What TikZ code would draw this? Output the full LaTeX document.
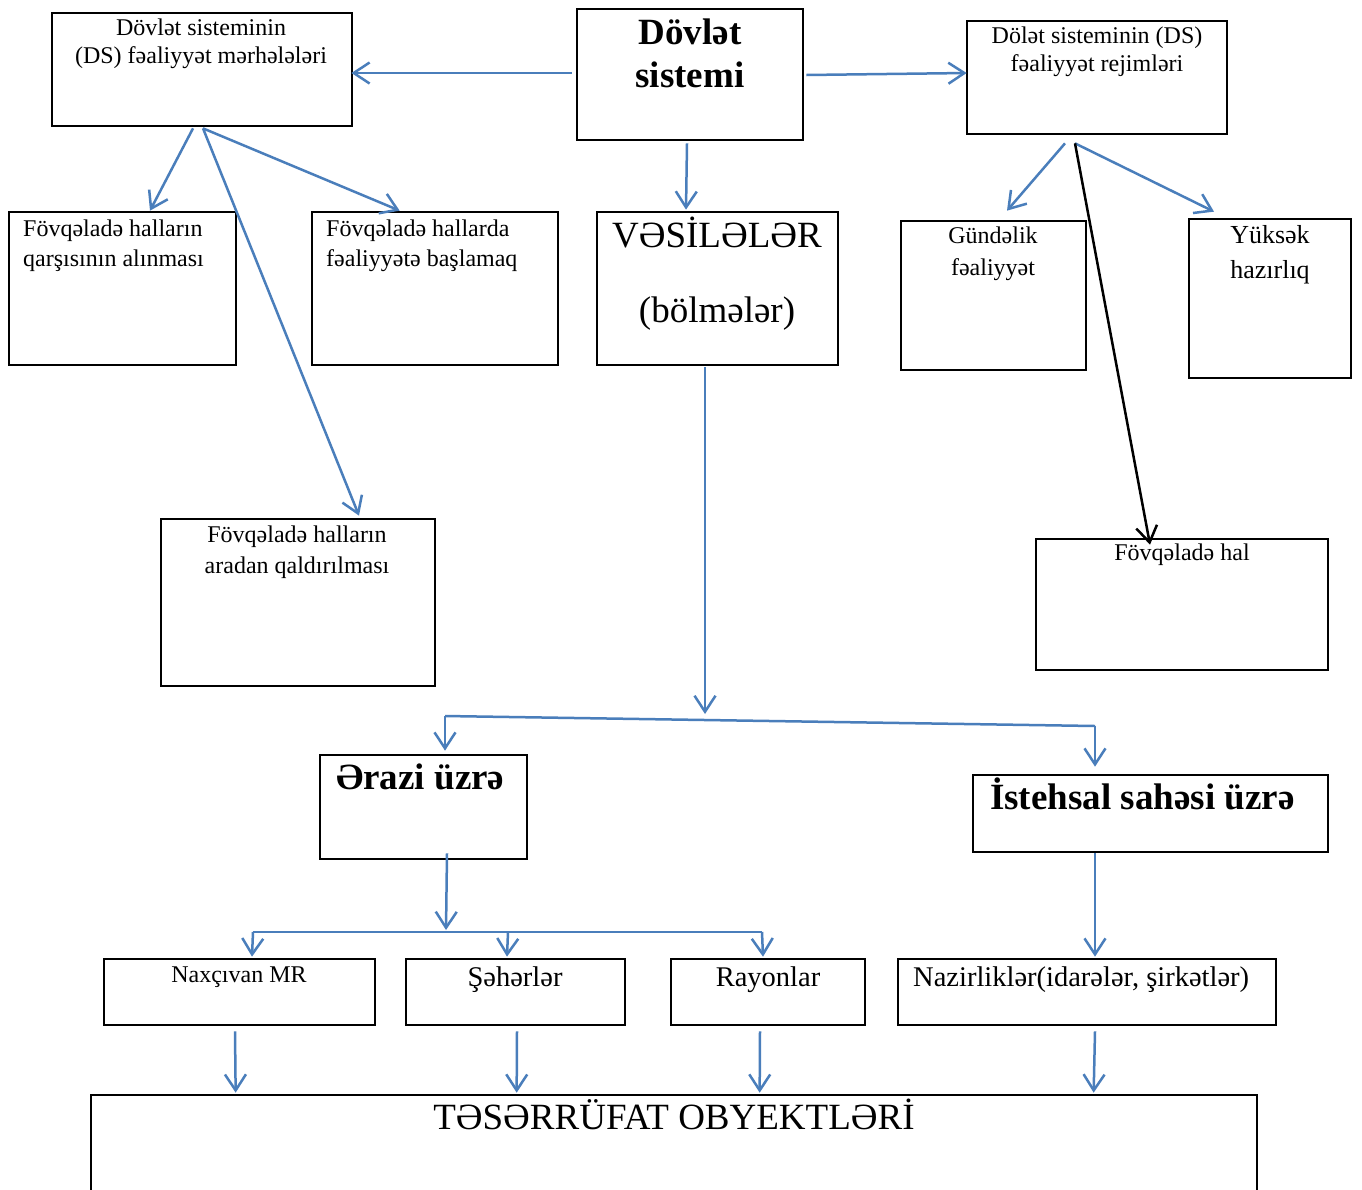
\documentclass[tikz,border=0pt]{standalone}
\usepackage{fontspec}
\setmainfont{Liberation Serif}
\usetikzlibrary{arrows.meta,calc,fit}
\definecolor{arrblue}{HTML}{4A7EBB}
\begin{document}
\begin{tikzpicture}[x=1pt,y=-1pt,
  box/.style={draw=black,line width=2.7pt,inner sep=0pt,rectangle},
  txt/.style={inner sep=0pt,align=center,font=\fontsize{24}{28}\selectfont},
  txtl/.style={inner sep=0pt,align=left,font=\fontsize{24}{30}\selectfont},
  big/.style={inner sep=0pt,align=center,font=\fontsize{37}{43}\selectfont},
  bigb/.style={inner sep=0pt,align=center,font=\fontsize{37}{43}\selectfont\bfseries},
  mid/.style={inner sep=0pt,align=center,font=\fontsize{28.5}{33}\selectfont},
  arr/.style={draw=arrblue,line width=2.5pt,-{Straight Barb[length=16pt,width=21pt]}},
  arrk/.style={draw=black,line width=2.5pt,-{Straight Barb[length=16pt,width=21pt]}},
  lnk/.style={draw=arrblue,line width=2.5pt},
 ]
\useasboundingbox (0,0) rectangle (1362,1189);
\clip (0,0) rectangle (1362,1189);
\fill[white] (0,0) rectangle (1362,1189);

% boxes
\node[box, fit={(52,13) (352,126)}] (b1) {};
\node[box, fit={(577,9) (803,140)}] (b2) {};
\node[box, fit={(967,21) (1227,134)}] (b3) {};
\node[box, fit={(9,212) (236,365)}] (b4) {};
\node[box, fit={(312,212) (558,365)}] (b5) {};
\node[box, fit={(597,212) (838,365)}] (b6) {};
\node[box, fit={(901,221) (1086,370)}] (b7) {};
\node[box, fit={(1189,219) (1351,378)}] (b8) {};
\node[box, fit={(161,519) (435,686)}] (b9) {};
\node[box, fit={(1036,539) (1328,670)}] (b10) {};
\node[box, fit={(320,755) (527,859)}] (b11) {};
\node[box, fit={(973,775) (1328,852)}] (b12) {};
\node[box, fit={(104,959) (375,1025)}] (b13) {};
\node[box, fit={(406,959) (625,1025)}] (b14) {};
\node[box, fit={(671,959) (865,1025)}] (b15) {};
\node[box, fit={(898,959) (1276,1025)}] (b16) {};
\node[box, fit={(91,1095) (1257,1210)}] (b17) {};

% texts (base anchor = baseline of the last line)
\node[txt, anchor=base] (t1) at (201,63) {Dövlət sisteminin\\(DS) fəaliyyət mərhələləri};
\node[bigb, anchor=base] (t2) at (690,87) {Dövlət\\sistemi};
\node[txt, anchor=base] (t3) at (1097,71) {Dölət sisteminin (DS)\\fəaliyyət rejimləri};
\node[txtl, anchor=base west] (t4) at (23,266) {Fövqəladə halların\\qarşısının alınması};
\node[txtl, anchor=base west] (t5) at (326,266) {Fövqəladə hallarda\\fəaliyyətə başlamaq};
\node[big, font=\fontsize{37}{75}\selectfont, anchor=base] (t6) at (717,322) {VƏSİLƏLƏR\\(bölmələr)};
\node[txt, font=\fontsize{24}{32}\selectfont, anchor=base] (t7) at (993,275) {Gündəlik\\fəaliyyət};
\node[txt, font=\fontsize{26}{35}\selectfont, anchor=base] (t8) at (1270,278) {Yüksək\\hazırlıq};
\node[txt, font=\fontsize{24}{31}\selectfont, anchor=base] (t9) at (297,573) {Fövqəladə halların\\aradan qaldırılması};
\node[txt, anchor=base] (t10) at (1182,560) {Fövqəladə hal};
\node[bigb, anchor=base west] (t11) at (336,789) {Ərazi üzrə};
\node[bigb, anchor=base west] (t12) at (990,809) {İstehsal sahəsi üzrə};
\node[txt, anchor=base] (t13) at (239,982) {Naxçıvan MR};
\node[mid, anchor=base] (t14) at (515,986) {Şəhərlər};
\node[mid, anchor=base] (t15) at (768,986) {Rayonlar};
\node[mid, anchor=base west] (t16) at (913,986) {Nazirliklər(idarələr, şirkətlər)};
\node[big, anchor=base] (t17) at (674,1129) {TƏSƏRRÜFAT OBYEKTLƏRİ};

% junction coordinates
\coordinate (jv) at (705,714);
\coordinate (bl) at (445,716);
\coordinate (br) at (1095,726);
\coordinate (je) at (446,930);
\coordinate (el) at (253,932);
\coordinate (em) at (508,932);
\coordinate (er) at (762,932);

% connectors
\draw[arr] ($(b2.west)+(-4,-1.5)$) -- ($(b1.east)+(-2,3.5)$);
\draw[arr] ($(b2.east)+(2,0.5)$) -- ($(b3.west)+(1,-4.5)$);
\draw[arr] ($(b2.south)+(-3,2)$) -- ($(b6.north)+(-31.5,-1)$);
\draw[arr] ($(b1.south)+(-9,1)$) -- ($(b4.north)+(27.5,0)$);
\draw[arr] ($(b1.south)+(1,1)$) -- ($(b5.north west)+(89,0)$);
\draw[arr] ($(b1.south)+(1,1)$) -- ($(b9.north)+(61,-2)$);
\draw[arr] ($(b3.south)+(-32,8)$) -- ($(b7.north)+(13.5,-9)$);
\draw[arr] ($(b3.south)+(-22,8)$) -- ($(b8.north)+(-56,-6)$);
\draw[arrk] ($(b3.south)+(-22,8)$) -- ($(b10.north)+(-32,7)$);
\draw[arr] ($(b6.south)+(-12.5,1)$) -- (jv);
\draw[lnk] (bl) -- (br);
\draw[arr] (bl) -- ($(b11.north)+(21.5,-3)$);
\draw[arr] (br) -- ($(b12.north)+(-55.5,-7)$);
\draw[arr] ($(b11.south)+(23.5,-7)$) -- (je);
\draw[lnk] (el) -- (er);
\draw[arr] (el) -- ($(b13.north)+(12.5,-1)$);
\draw[arr] (em) -- ($(b14.north)+(-8.5,-1)$);
\draw[arr] (er) -- ($(b15.north)+(-5,-1)$);
\draw[arr] ($(b12.south)+(-55.5,0)$) -- ($(b16.north)+(8,-1)$);
\draw[arr] ($(b13.south)+(-4.5,5)$) -- ($(b17.north west)+(146,-1)$);
\draw[arr] ($(b14.south)+(1.5,5)$) -- ($(b17.north west)+(427,-1)$);
\draw[arr] ($(b15.south)+(-8,5)$) -- ($(b17.north west)+(670,-1)$);
\draw[arr] ($(b16.south)+(8,5)$) -- ($(b17.north west)+(1004,-1)$);
\end{tikzpicture}
\end{document}
